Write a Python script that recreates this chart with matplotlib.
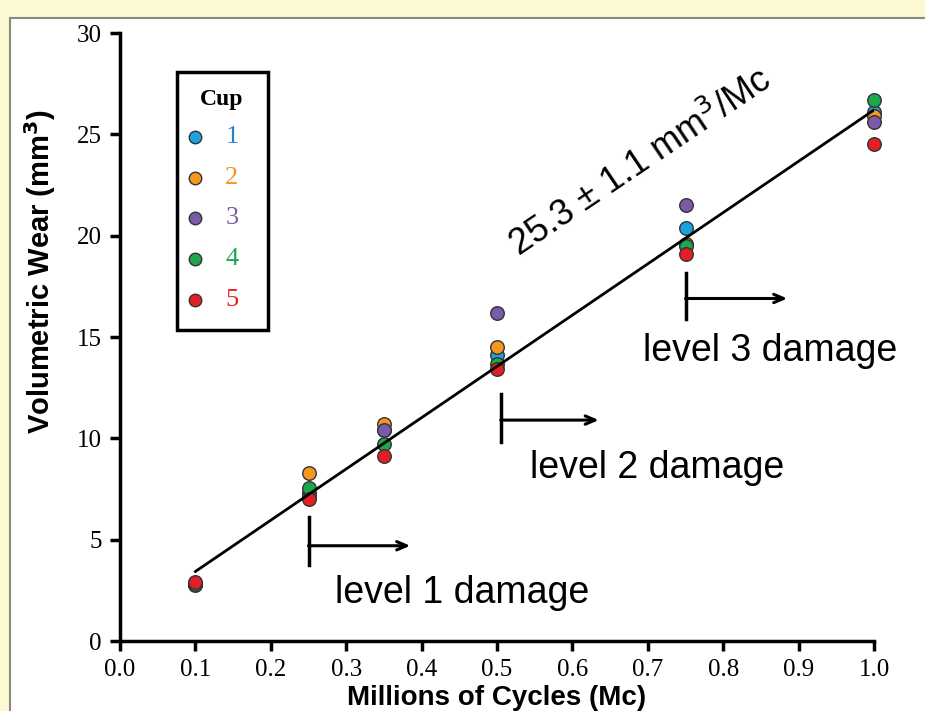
import matplotlib
matplotlib.use("Agg")
import matplotlib.pyplot as plt
from matplotlib.patches import Rectangle
import numpy as np

# ---- data ----
cycles = [0.1, 0.25, 0.35, 0.5, 0.75, 1.0]
cup_names = ["1", "2", "3", "4", "5"]
cup1 = [2.8, 7.3, 10.4, 14.1, 20.4, 26.1]
cup2 = [2.8, 8.3, 10.7, 14.5, 19.6, 25.9]
cup3 = [2.75, 7.2, 10.4, 16.2, 21.5, 25.6]
cup4 = [2.8, 7.55, 9.7, 13.65, 19.5, 26.7]
cup5 = [2.9, 7.0, 9.15, 13.4, 19.1, 24.5]
fit_slope = 25.3
fit_intercept = 0.9
fit_label = "25.3 ± 1.1 mm$^3$/Mc"
damage_labels = ["level 1 damage", "level 2 damage", "level 3 damage"]
x_ticks = [0.0, 0.1, 0.2, 0.3, 0.4, 0.5, 0.6, 0.7, 0.8, 0.9, 1.0]
y_ticks = [0, 5, 10, 15, 20, 25, 30]

colors = ["#1CA3DE", "#F5961F", "#7A5BA8", "#1DA64E", "#E41E26"]
text_colors = ["#2E7DD1", "#F5961F", "#7A5BA8", "#1DA64E", "#E41E26"]

W, H = 925, 711
fig = plt.figure(figsize=(W / 100, H / 100), dpi=100)
fig.patch.set_facecolor("#FCF8D2")
panel = Rectangle((10 / W, -0.02), 1.0, 1 - 18 / H + 0.02, transform=fig.transFigure,
                  facecolor="white", edgecolor="#8A8A80", linewidth=1.5, zorder=-10)
fig.patches.append(panel)

ax = fig.add_axes([120 / W, 1 - 641 / H, (874 - 120) / W, (641 - 33) / H])
ax.set_facecolor("none")
ax.set_zorder(2)

series = [cup1, cup2, cup3, cup4, cup5]
for vals, c in zip(series, colors):
    ax.scatter(cycles, vals, s=95, color=c, edgecolor="#333333", linewidth=1.0, zorder=3,
               clip_on=False)

fx = np.array([cycles[0], cycles[-1]])
ax.plot(fx, fit_slope * fx + fit_intercept, color="black", lw=2.0, zorder=4)

ax.set_xlim(0, 1.0)
ax.set_ylim(0, 30)
ax.set_xticks(x_ticks)
ax.set_xticklabels([f"{t:.1f}" for t in x_ticks])
ax.set_yticks(y_ticks)
for s in ["top", "right"]:
    ax.spines[s].set_visible(False)
for s in ["left", "bottom"]:
    ax.spines[s].set_linewidth(2.5)
ax.tick_params(axis="both", which="major", direction="out", length=7, width=2.5,
               labelsize=18, pad=6)
for lab in ax.get_xticklabels() + ax.get_yticklabels():
    lab.set_fontfamily("Liberation Serif")

ax.set_xlabel("Millions of Cycles (Mc)", fontsize=20, fontweight="bold",
              fontfamily="Liberation Sans")
ax.set_ylabel("Volumetric Wear (mm$^\\mathbf{3}$)", fontsize=21, fontweight="bold",
              fontfamily="Liberation Sans")
ax.yaxis.set_label_coords(-0.082, 0.608)
ax.xaxis.set_label_coords(0.5, -0.073)

# fit label
ax.text(0.69, 23.6, fit_label, rotation=34, rotation_mode="anchor", ha="center", va="center",
        fontsize=26, fontfamily="Liberation Sans", zorder=5)

# damage markers
damage_x = [0.25, 0.505, 0.75]
bar_lo = [3.75, 9.8, 15.9]
bar_hi = [6.1, 12.2, 18.15]
arrow_y = [4.7, 10.9, 16.9]
arrow_end = [0.385, 0.635, 0.885]
text_pos = [(0.285, 2.35), (0.544, 8.55), (0.694, 14.3)]
for i in range(3):
    ax.plot([damage_x[i], damage_x[i]], [bar_lo[i], bar_hi[i]], color="black", lw=2.5, zorder=5)
    ax.annotate("", xy=(arrow_end[i], arrow_y[i]), xytext=(damage_x[i], arrow_y[i]),
                arrowprops=dict(arrowstyle="->,head_length=0.7,head_width=0.3", color="black",
                                lw=2.2, shrinkA=0, shrinkB=0), zorder=5)
    ax.text(text_pos[i][0], text_pos[i][1], damage_labels[i], ha="left", va="center",
            fontsize=27, fontfamily="Liberation Sans", zorder=5)

# legend (drawn manually in figure pixel coordinates)
def fx_(px):
    return px / W

def fy_(py):
    return 1 - py / H

fig.patches.append(Rectangle((fx_(177), fy_(330)), (268 - 177) / W, (330 - 72) / H,
                             transform=fig.transFigure, facecolor="white", edgecolor="black",
                             linewidth=2.5, zorder=5))
fig.text(fx_(222), fy_(99), "Cup", ha="center", va="center", fontsize=17, fontweight="bold",
         fontfamily="Liberation Serif", zorder=6)
row_y = [137, 178, 218, 259, 300]
for name, c, tc, ry in zip(cup_names, colors, text_colors, row_y):
    fig.add_artist(plt.Line2D([fx_(195)], [fy_(ry)], transform=fig.transFigure, marker="o",
                              linestyle="none", markersize=9, markerfacecolor=c,
                              markeredgecolor="#333333", markeredgewidth=1.0, zorder=6))
    fig.text(fx_(232), fy_(ry), name, ha="center", va="center", fontsize=19, color=tc,
             fontfamily="Liberation Serif", zorder=6)

fig.savefig("out.png", dpi=100, facecolor=fig.get_facecolor())
